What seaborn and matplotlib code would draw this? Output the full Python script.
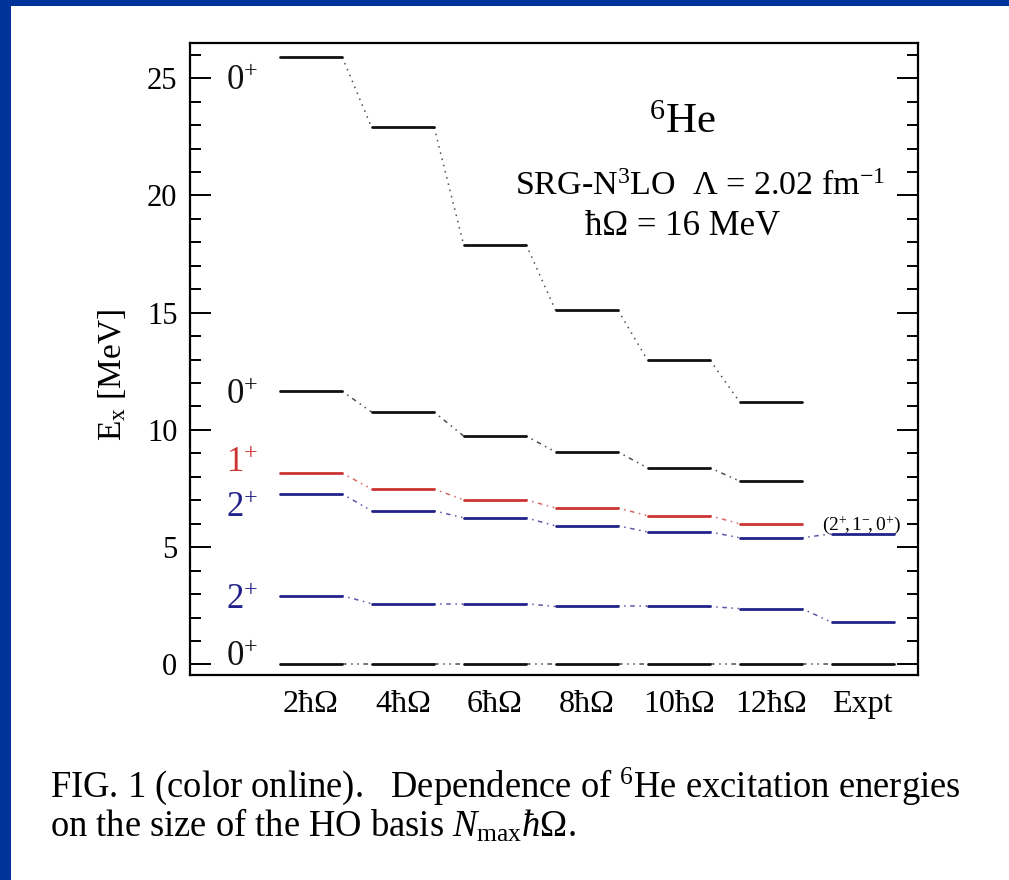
import matplotlib
matplotlib.use("Agg")
import matplotlib.pyplot as plt
from matplotlib.patches import Rectangle
from matplotlib.ticker import MultipleLocator
import numpy as np
import pandas as pd
import seaborn as sns

# basis sizes (columns) and excitation energies in MeV
basis_labels = ["2ħΩ", "4ħΩ", "6ħΩ", "8ħΩ", "10ħΩ", "12ħΩ", "Expt"]
e_0plus_3 = [25.9, 22.9, 17.9, 15.1, 12.97, 11.2]
e_0plus_2 = [11.65, 10.76, 9.74, 9.06, 8.38, 7.82]
e_1plus_1 = [8.16, 7.48, 7.02, 6.67, 6.34, 6.0]
e_2plus_2 = [7.27, 6.55, 6.25, 5.91, 5.65, 5.4, 5.57]
e_2plus_1 = [2.93, 2.59, 2.59, 2.47, 2.47, 2.38, 1.8]
e_0plus_1 = [0, 0, 0, 0, 0, 0, 0]

BLACK = "#111111"
RED = "#cc3333"
BLUE = "#22228a"

# name, energies, colour, connector style
states = [
    ("0+ (3)", e_0plus_3, BLACK, (0, (1, 3.2))),
    ("0+ (2)", e_0plus_2, BLACK, (0, (1, 3, 1, 3, 3, 3))),
    ("1+ (1)", e_1plus_1, RED, (0, (1, 3, 1, 3, 3, 3))),
    ("2+ (2)", e_2plus_2, BLUE, (0, (1, 3, 1, 3, 3, 3))),
    ("2+ (1)", e_2plus_1, BLUE, (0, (1, 3, 1, 3, 3, 3))),
    ("0+ (1)", e_0plus_1, BLACK, (0, (3, 3, 1, 3, 1, 3))),
]

half_w = 0.34

rows = []
for name, vals, _, _ in states:
    for i, e in enumerate(vals):
        rows.append({"state": name, "seg": f"{name}-{i}", "x": i - half_w, "E": e})
        rows.append({"state": name, "seg": f"{name}-{i}", "x": i + half_w, "E": e})
levels = pd.DataFrame(rows)

sns.set_theme(style="ticks")
plt.rcParams["font.family"] = ["Liberation Serif", "DejaVu Serif"]
plt.rcParams["mathtext.fontset"] = "custom"
plt.rcParams["mathtext.rm"] = "Liberation Serif"
plt.rcParams["mathtext.it"] = "Liberation Serif:italic"
for key in ["text.color", "axes.labelcolor", "xtick.color", "ytick.color",
            "axes.edgecolor"]:
    plt.rcParams[key] = "black"

fig = plt.figure(figsize=(10.09, 8.80), dpi=100)
fig.patch.set_facecolor("white")
ax = fig.add_axes([0.1883, 0.2330, 0.7215, 0.7181])

palette = {name: color for name, _, color, _ in states}
sns.lineplot(data=levels, x="x", y="E", hue="state", units="seg",
             estimator=None, sort=False, palette=palette, linewidth=2.0,
             legend=False, ax=ax)

# dotted connectors between neighbouring levels
for name, vals, color, ls in states:
    for i in range(len(vals) - 1):
        ax.plot([i + half_w, i + 1 - half_w], [vals[i], vals[i + 1]],
                color=color, linestyle=ls, linewidth=1.1, alpha=0.75)

ax.set_xlim(-1.315, 6.6)
ax.set_ylim(-0.45, 26.5)
ax.set_xticks(np.arange(len(basis_labels)))
ax.set_xticklabels(basis_labels)
ax.yaxis.set_major_locator(MultipleLocator(5))
ax.yaxis.set_minor_locator(MultipleLocator(1))
ax.tick_params(axis="x", length=0, pad=11, labelsize=23)
ax.tick_params(axis="y", which="both", direction="in", left=True, right=True,
               labelsize=22, pad=9, width=1.4)
ax.tick_params(axis="y", which="major", length=15)
ax.tick_params(axis="y", which="minor", length=8)
for s in ax.spines.values():
    s.set_linewidth(1.6)
ax.set_xlabel("")
ax.set_ylabel(r"E$_{\rm x}$ [MeV]", fontsize=24)
ax.yaxis.set_label_coords(-0.085, 0.475)

# state labels on the left
label_x = -0.92
state_text = [
    (r"$0^{+}$", 24.5, BLACK),
    (r"$0^{+}$", 11.1, BLACK),
    (r"$1^{+}$", 8.2, RED),
    (r"$2^{+}$", 6.3, BLUE),
    (r"$2^{+}$", 2.35, BLUE),
    (r"$0^{+}$", -0.05, BLACK),
]
for txt, y, color in state_text:
    ax.text(label_x, y, txt, color=color, fontsize=25, va="baseline", ha="left")

ax.text(5.99, 5.75, r"$(2^{+}\!,1^{-}\!,0^{+})$", fontsize=14, ha="center",
        va="baseline")

ax.text(4.04, 22.65, r"$^{6}$He", fontsize=31, ha="center", va="baseline")
ax.text(4.23, 20.0, r"SRG-N$^{3}$LO  Λ = 2.02 fm$^{-1}$", fontsize=24.5,
        ha="center", va="baseline")
ax.text(4.04, 18.3, "ħΩ = 16 MeV", fontsize=25, ha="center", va="baseline")

# caption
fig.text(50 / 1009, 1 - 797 / 880,
         r"FIG. 1 (color online).   Dependence of $^{6}$He excitation energies",
         fontsize=26.3, ha="left", va="baseline")
fig.text(50 / 1009, 1 - 837 / 880,
         r"on the size of the HO basis $N_{\rm max}\hbar\Omega$.",
         fontsize=26.3, ha="left", va="baseline")

# blue slide frame
fig.patches.append(Rectangle((0, 0), 11 / 1009, 1, transform=fig.transFigure,
                             facecolor="#003399", edgecolor="none", zorder=-1))
fig.patches.append(Rectangle((0, 1 - 6 / 880), 1, 6 / 880, transform=fig.transFigure,
                             facecolor="#003399", edgecolor="none", zorder=-1))

fig.savefig("out.png", dpi=100)
